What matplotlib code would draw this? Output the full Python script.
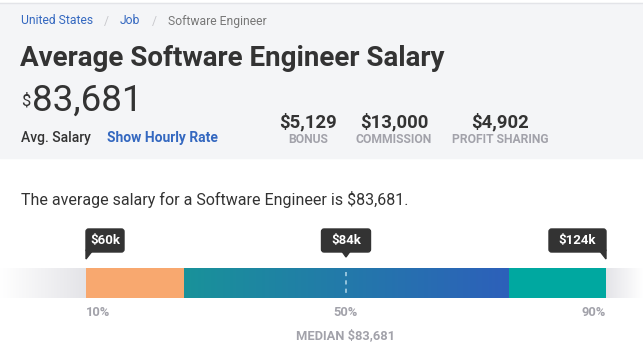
# PayScale style salary card

import matplotlib.pyplot as plt
from matplotlib.patches import FancyBboxPatch, Polygon, Rectangle
from matplotlib.colors import LinearSegmentedColormap
import numpy as np

plt.rcParams['font.family'] = ['Roboto', 'DejaVu Sans']

# data
job = 'Software Engineer'
avg_salary = 83681
extras = ['BONUS', 'COMMISSION', 'PROFIT SHARING']
extra_values = [5129, 13000, 4902]
pct_marks = [10, 50, 90]
pct_salary_k = [60, 84, 124]
segments = [10, 25, 75, 90]   # percentile edges of the coloured bar

W, H = 643, 364
fig = plt.figure(figsize=(W / 100, H / 100), dpi=100)

# pixel axes for the header / text
ax = fig.add_axes([0, 0, 1, 1])
ax.set_xlim(0, W)
ax.set_ylim(H, 0)
ax.axis('off')

dark = '#333333'
blue = '#3468c0'
grey = '#a2a2aa'

# header panel
ax.add_patch(Rectangle((0, 3), W, 155, color='#f4f5f7', zorder=0))
ax.plot([0, W], [3, 3], color='#e3e4e8', lw=1)

# breadcrumb
crumbs = [('United States', blue), ('/', '#c8c8cc'), ('Job', blue), ('/', '#c8c8cc'), (job, '#777777')]
x = 21
fig.canvas.draw()
r = fig.canvas.get_renderer()
for txt, col in crumbs:
    t = ax.text(x, 21, txt, fontsize=8.7, color=col, va='center', ha='left')
    bb = t.get_window_extent(r)
    x += bb.width + 11

ax.text(20, 58, f'Average {job} Salary', fontsize=20, fontweight='bold', color=dark, va='center')
ax.text(21, 101, '$', fontsize=12, color=dark, va='center')
ax.text(32, 100.5, f'{avg_salary:,}', fontsize=26.5, color=dark, va='center')
ax.text(21, 138, 'Avg. Salary', fontsize=10, fontweight='medium', color=dark, va='center')
ax.text(107, 138, 'Show Hourly Rate', fontsize=10, fontweight='bold', color=blue, va='center')

extra_x = [308, 394, 500]
for cx, lab, val in zip(extra_x, extras, extra_values):
    ax.text(cx, 122, f'${val:,}', fontsize=13.3, fontweight='bold', color=dark, ha='center', va='center')
    ax.text(cx, 139.5, lab, fontsize=8.7, fontweight='bold', color=grey, ha='center', va='center')

ax.text(21, 200, f'The average salary for a {job} is ${avg_salary:,}.', fontsize=11.5, color=dark, va='center')

# bar axes, x in percentiles
px_per_pct = 6.5
x0 = 10 - 86 / px_per_pct
x1 = x0 + W / px_per_pct
bx = fig.add_axes([0, 0, 1, 1])
bx.set_xlim(x0, x1)
bx.set_ylim(H, 0)
bx.axis('off')
bx.patch.set_alpha(0)

y_top, y_bot = 268, 298
fade_l = LinearSegmentedColormap.from_list('fl', ['#ffffff', '#e4e4e8'])
fade_r = LinearSegmentedColormap.from_list('fr', ['#e4e4e8', '#ffffff'])
mid = LinearSegmentedColormap.from_list('mid', ['#19929a', '#2d60ba'])
grad = np.linspace(0, 1, 256).reshape(1, -1)
bx.imshow(grad, cmap=fade_l, aspect='auto', extent=[x0, segments[0], y_bot, y_top], zorder=1)
bx.imshow(grad, cmap=fade_r, aspect='auto', extent=[segments[-1], x1, y_bot, y_top], zorder=1)
bx.imshow(grad, cmap=mid, aspect='auto', extent=[segments[1], segments[2], y_bot, y_top], zorder=1)
bx.barh((y_top + y_bot) / 2, segments[1] - segments[0], left=segments[0], height=y_bot - y_top,
        color='#f8a86f', zorder=2)
bx.barh((y_top + y_bot) / 2, segments[3] - segments[2], left=segments[2], height=y_bot - y_top,
        color='#00a8a0', zorder=2)
bx.set_xlim(x0, x1)
bx.set_ylim(H, 0)
bx.plot([pct_marks[1]] * 2, [272, 294], color='#a8d0e4', lw=1.2, ls=(0, (2.5, 2.5)), zorder=3)

# tooltips
box_w = {0: 38, 1: 49, 2: 57}
for i, (p, s) in enumerate(zip(pct_marks, pct_salary_k)):
    w = box_w[i] / px_per_pct
    if i == 0:
        left = p
        tip = [(p, 250), (p, 259), (p + 7 / px_per_pct, 250)]
    elif i == 1:
        left = p - w / 2
        tip = [(p - 5 / px_per_pct, 250), (p, 257), (p + 5 / px_per_pct, 250)]
    else:
        left = p - w
        tip = [(p - 7 / px_per_pct, 250), (p, 259), (p, 250)]
    bx.add_patch(FancyBboxPatch((left, 229), w, 23, boxstyle='round,pad=0,rounding_size=0.4',
                                mutation_aspect=6.5, color='#333333', zorder=4))
    bx.add_patch(Polygon(tip, closed=True, color='#333333', zorder=4))
    bx.text(left + w / 2, 240.5, f'${s}k', fontsize=9.5, fontweight='bold', color='white',
            ha='center', va='center', zorder=5)

bx.text(pct_marks[0], 312, f'{pct_marks[0]}%', fontsize=9.3, fontweight='bold', color=grey, ha='left', va='center')
bx.text(pct_marks[1], 312, f'{pct_marks[1]}%', fontsize=9.3, fontweight='bold', color=grey, ha='center', va='center')
bx.text(pct_marks[2], 312, f'{pct_marks[2]}%', fontsize=9.3, fontweight='bold', color=grey, ha='right', va='center')
bx.text(pct_marks[1], 336, f'MEDIAN ${avg_salary:,}', fontsize=9.3, fontweight='bold', color=grey,
        ha='center', va='center')

fig.savefig('out.png', dpi=100)
